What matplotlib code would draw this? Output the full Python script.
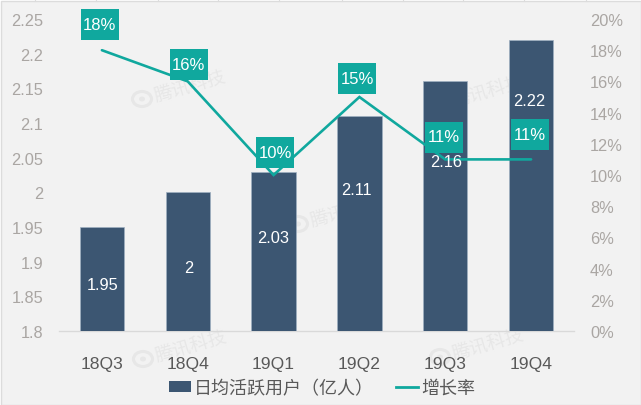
import matplotlib
matplotlib.use("Agg")
import matplotlib.pyplot as plt
from matplotlib.patches import Patch, Rectangle, Ellipse
from matplotlib.lines import Line2D
from matplotlib.ticker import FuncFormatter

W, H = 641, 406
categories = ["18Q3", "18Q4", "19Q1", "19Q2", "19Q3", "19Q4"]
dau = [1.95, 2.0, 2.03, 2.11, 2.16, 2.22]
growth = [18, 16, 10, 15, 11, 11]
growth_labels = ["18%", "16%", "10%", "15%", "11%", "11%"]
dau_labels = ["1.95", "2", "2.03", "2.11", "2.16", "2.22"]
left_ticks = [1.8, 1.85, 1.9, 1.95, 2.0, 2.05, 2.1, 2.15, 2.2, 2.25]
left_tick_labels = ["1.8", "1.85", "1.9", "1.95", "2", "2.05", "2.1", "2.15", "2.2", "2.25"]
right_ticks = [0, 2, 4, 6, 8, 10, 12, 14, 16, 18, 20]
bar_name = "日均活跃用户（亿人）"
line_name = "增长率"
mark_name = "腾讯科技"

# label offsets from each mark, pixels (dx, dy; y up)
dau_off = [(1, -58), (1, -75), (0, -65.5), (-2.6, -73), (0.5, -80.6), (-2, -61)]
growth_off = [(-2, 25.5), (1, 17), (1.7, 22.5), (-2, 18.5), (-1, 22.4), (-1, 25)]
BOX_W, BOX_H = 38, 31
AX_L, AX_R, AX_T, AX_B = 59, 574, 20, 332

BG = "#f2f2f2"
NAVY = "#3c5672"
TEAL = "#10a89e"
WM = "#e7e7e7"
TICK = "#aaa6a3"
CJK = ["Noto Sans CJK SC", "DejaVu Sans"]
plt.rcParams["font.family"] = ["Liberation Sans", "Noto Sans CJK SC", "DejaVu Sans"]

fig = plt.figure(figsize=(W / 100, H / 100), dpi=100, facecolor="white")
fig.add_artist(Rectangle((1 / W, 0), 1 - 1 / W, 1 - 2 / H, transform=fig.transFigure,
                         facecolor=BG, edgecolor="#dcdcdc", lw=1, zorder=-3))
for px in [35, 96, 158, 218, 279, 342, 403, 463, 524, 586]:
    fig.add_artist(Line2D([px / W, px / W], [1 - 2 / H, 1], color="#dcdcdc", lw=0.8, zorder=-3))

ax = fig.add_axes([AX_L / W, 1 - AX_B / H, (AX_R - AX_L) / W, (AX_B - AX_T) / H])
ax.patch.set_alpha(0)
ax2 = ax.twinx()
ax2.patch.set_alpha(0)

x = list(range(len(categories)))
ax.bar(x, dau, bottom=0, width=0.515, color=NAVY, edgecolor="#9fb0c2", linewidth=0.5, zorder=3)
ax.set_xlim(-0.5, 5.5)
ax.set_ylim(1.8, 2.25)
ax.set_yticks(left_ticks, left_tick_labels)
ax.set_xticks(x, categories)
ax.tick_params(axis="y", length=0, pad=11.5, labelsize=11.8, labelcolor=TICK)
ax.tick_params(axis="x", length=0, pad=18, labelsize=12.6, labelcolor="#595959")
for s in ["top", "left", "right"]:
    ax.spines[s].set_visible(False)
ax.spines["bottom"].set_color("#d9d9d9")
ax.spines["bottom"].set_linewidth(1)

ax2.plot(x, growth, color=TEAL, lw=1.9, zorder=3, solid_capstyle="round", solid_joinstyle="miter")
ax2.set_ylim(0, 20)
ax2.set_yticks(right_ticks)
ax2.yaxis.set_major_formatter(FuncFormatter(lambda v, _: f"{int(v)}%"))
ax2.tick_params(axis="y", length=0, pad=11.5, labelsize=11.8, labelcolor=TICK)
for s in ax2.spines.values():
    s.set_visible(False)

# watermarks behind everything in the plot (icon centre, pixels)
for (mx, my) in [(142, 100), (298, 225), (143, 360), (440, 358), (440, 105)]:
    fig.text((mx + 13) / W, 1 - (my - 2) / H, mark_name, family=CJK, fontsize=13.3, color=WM,
             rotation=16, rotation_mode="anchor", ha="left", va="center", zorder=-2)
    fig.add_artist(Ellipse((mx / W, 1 - my / H), 19 / W, 15 / H, transform=fig.transFigure,
                           facecolor="none", edgecolor=WM, lw=2.2, zorder=-2))
    fig.add_artist(Ellipse((mx / W, 1 - my / H), 6 / W, 5 / H, transform=fig.transFigure,
                           facecolor=WM, edgecolor="none", zorder=-2))

px_x = (AX_R - AX_L) / 6
px_y = (AX_B - AX_T) / 20
for xi, val, lab, (dx, dy) in zip(x, growth, growth_labels, growth_off):
    ax2.add_patch(Rectangle((xi + (dx - BOX_W / 2) / px_x, val + (dy - BOX_H / 2) / px_y),
                            BOX_W / px_x, BOX_H / px_y, facecolor=TEAL, edgecolor="none",
                            zorder=4, clip_on=False))
    ax2.annotate(lab, xy=(xi, val), xytext=(dx, dy), textcoords="offset pixels",
                 ha="center", va="center", color="white", fontsize=12, zorder=5)

for xi, val, lab, off in zip(x, dau, dau_labels, dau_off):
    ax2.annotate(lab, xy=(xi, val), xycoords=ax.transData, xytext=off, textcoords="offset pixels",
                 ha="center", va="center", color="white", fontsize=11.8, zorder=6)

handles = [Patch(facecolor=NAVY, edgecolor="none"), Line2D([0], [0], color=TEAL, lw=2)]
fig.legend(handles, [bar_name, line_name], loc="center", bbox_to_anchor=(322 / W, 1 - 389 / H),
           ncol=2, frameon=False, prop={"family": CJK, "size": 13}, labelcolor="#595959",
           handlelength=1.25, handleheight=0.55, handletextpad=0.17, columnspacing=1.2,
           borderpad=0, borderaxespad=0)

fig.savefig("out.png", dpi=100, facecolor=fig.get_facecolor())
